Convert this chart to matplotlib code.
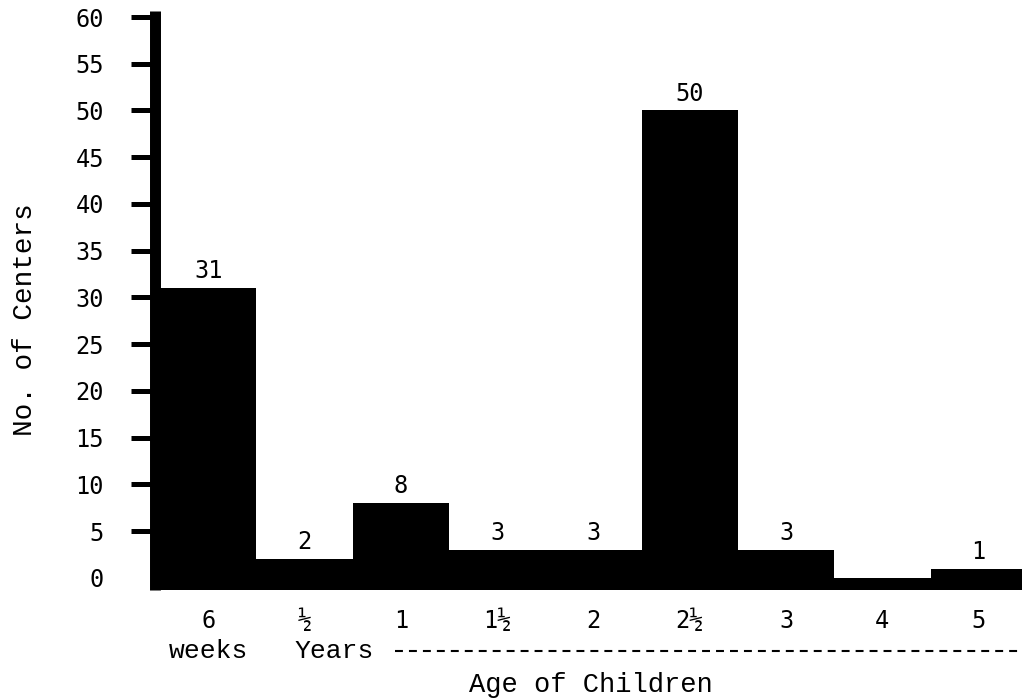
import matplotlib.pyplot as plt
import matplotlib.transforms as mtransforms
import numpy as np

# age groups and number of centers
ages = ['6', '½', '1', '1½', '2', '2½', '3', '4', '5']
centers = [31, 2, 8, 3, 3, 50, 3, 0, 1]
value_labels = ['31', '2', '8', '3', '3', '50', '3', '', '1']
yticks = [0, 5, 10, 15, 20, 25, 30, 35, 40, 45, 50, 55, 60]

plt.rcParams['font.family'] = ['Liberation Mono', 'DejaVu Sans Mono']
num_font = dict(family='DejaVu Sans Mono', fontsize=17)

fig = plt.figure(figsize=(10.22, 6.98), dpi=100)
ax = fig.add_axes([145 / 1022, 108 / 698, 877 / 1022, 583 / 698])

x = np.arange(len(ages))
base = -1.3  # black band under the zero line
vals = np.array(centers, dtype=float)
ax.bar(x, vals - base, bottom=base, width=1.0, color='black', linewidth=0)

ax.set_xlim(-0.656, 8.45)
ax.set_ylim(base, 61.07)

# numbers above the bars
for xi, v, lab in zip(x, centers, value_labels):
    if lab:
        ax.annotate(lab, (xi, v), xytext=(0, 7), textcoords='offset points',
                    ha='center', va='baseline', color='black', **num_font)

# axes styling
for s in ['top', 'right', 'bottom']:
    ax.spines[s].set_visible(False)
ax.spines['left'].set_position(('data', -0.55))
ax.spines['left'].set_linewidth(7.9)
ax.spines['left'].set_capstyle('butt')
ax.spines['left'].set_bounds(base, 60.6)

ax.set_yticks(yticks)
ax.set_yticklabels([str(t) for t in yticks], **num_font)
ax.tick_params(axis='y', length=17, width=3.6, pad=20, color='black')
ax.yaxis.get_major_ticks()[0].tick1line.set_visible(False)

ax.set_xticks(x)
ax.set_xticklabels(ages, **num_font)
ax.tick_params(axis='x', length=0, pad=14)

# second line of the axis labelling
trans = mtransforms.blended_transform_factory(ax.transData, ax.transAxes)
ax.text(0, -0.105, 'weeks', transform=trans, ha='center', va='center', fontsize=19)
ax.text(0.90, -0.105, 'Years', transform=trans, ha='left', va='center', fontsize=19)
ax.plot([1.94, 8.41], [-0.105, -0.105], transform=trans, color='black',
        lw=1.5, dashes=(3.8, 2.9), clip_on=False)
ax.text(3.975, -0.163, 'Age of Children', transform=trans, ha='center', va='center',
        fontsize=19.5)

fig.text(25 / 1022, 1 - 320 / 698, 'No. of Centers', rotation=90, ha='center',
         va='center', fontsize=20)

plt.savefig('out.png', dpi=100)
